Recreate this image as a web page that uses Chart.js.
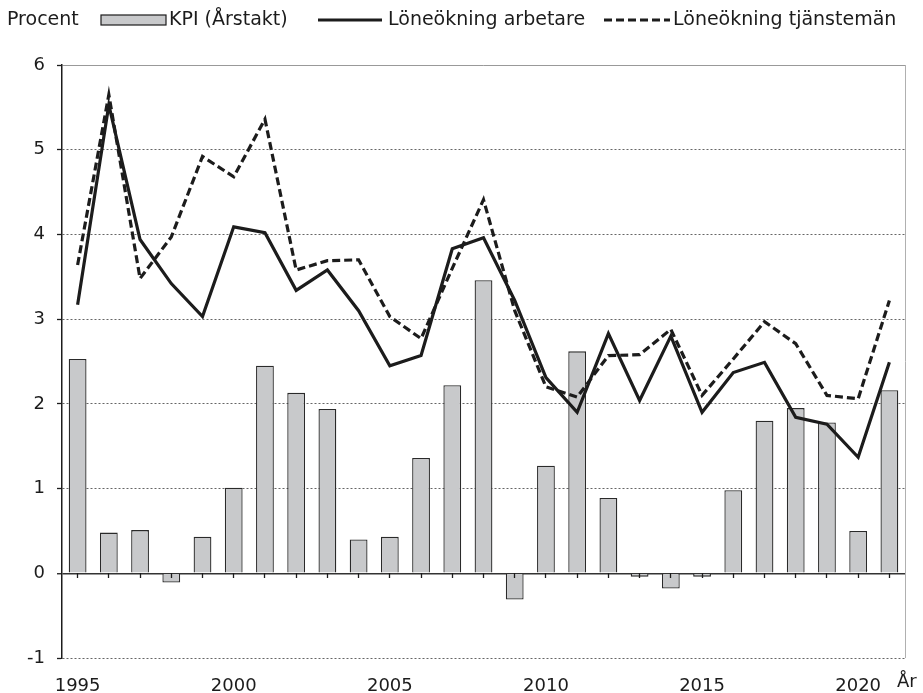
<!DOCTYPE html>
<html>
<head>
<meta charset="utf-8">
<script src="https://cdn.jsdelivr.net/npm/chart.js@4.4.0/dist/chart.umd.min.js"></script>
<style>
  html, body { margin: 0; padding: 0; background: #fff; }
  #wrap { width: 923px; height: 693px; }
</style>
</head>
<body>
<div id="wrap"><canvas id="myChart" width="923" height="693"></canvas></div>
<script>
// Data ==>
var years = ['1995', '1996', '1997', '1998', '1999', '2000', '2001', '2002', '2003', '2004',
    '2005', '2006', '2007', '2008', '2009', '2010', '2011', '2012', '2013', '2014',
    '2015', '2016', '2017', '2018', '2019', '2020', '2021']
var kpi = [2.53, 0.48, 0.51, -0.11, 0.43, 1.01, 2.45, 2.13, 1.94, 0.40,
    0.43, 1.36, 2.22, 3.46, -0.31, 1.27, 2.62, 0.89, -0.04, -0.18,
    -0.04, 0.98, 1.80, 1.95, 1.78, 0.50, 2.16]
var arbetare = [3.17, 5.53, 3.94, 3.42, 3.03, 4.09, 4.02, 3.34, 3.58, 3.10,
    2.45, 2.57, 3.83, 3.96, 3.22, 2.31, 1.90, 2.83, 2.04, 2.80,
    1.90, 2.37, 2.49, 1.84, 1.76, 1.37, 2.49]
var tjansteman = [3.64, 5.65, 3.48, 3.97, 4.92, 4.68, 5.36, 3.58, 3.69, 3.70,
    3.03, 2.77, 3.60, 4.41, 3.10, 2.20, 2.08, 2.57, 2.58, 2.88,
    2.10, 2.53, 2.97, 2.71, 2.10, 2.06, 3.22]
var shownYears = ['1995', '2000', '2005', '2010', '2015', '2020']
var seriesNames = ['KPI (Årstakt)', 'Löneökning arbetare', 'Löneökning tjänstemän']
var yUnit = 'Procent'
var xUnit = 'År'

var FONT = '"DejaVu Sans", sans-serif'
var INK = '#1c1c1c'

// Legend + unit texts ==>
var extraText = {
    id: 'extraText',
    afterDraw(chart) {
        var c = chart.ctx
        var area = chart.chartArea
        c.save()
        c.font = '19px ' + FONT
        c.fillStyle = INK
        c.textBaseline = 'middle'
        c.textAlign = 'left'
        var ly = 20
        c.fillText(yUnit, 7, ly)

        // bar key
        c.fillStyle = '#c8c9cb'
        c.fillRect(101, ly - 5, 65, 10)
        c.strokeStyle = INK
        c.lineWidth = 1.2
        c.strokeRect(101, ly - 5, 65, 10)
        c.fillStyle = INK
        c.fillText(seriesNames[0], 169, ly)

        // solid key
        c.lineWidth = 3
        c.beginPath()
        c.moveTo(318, ly)
        c.lineTo(382, ly)
        c.stroke()
        c.fillText(seriesNames[1], 388, ly)

        // dashed key
        c.setLineDash([8, 4])
        c.beginPath()
        c.moveTo(604, ly)
        c.lineTo(670, ly)
        c.stroke()
        c.setLineDash([])
        c.fillText(seriesNames[2], 673, ly)

        // År
        c.font = '18px ' + FONT
        c.fillText(xUnit, area.right - 8, 682)

        // right frame
        c.strokeStyle = '#b0b0b0'
        c.lineWidth = 1
        c.beginPath()
        c.moveTo(area.right + 0.5, area.top)
        c.lineTo(area.right + 0.5, area.bottom)
        c.stroke()
        c.restore()
    }
}

const ctx = document.getElementById('myChart')
Chart.defaults.font.family = FONT
Chart.defaults.font.size = 18
Chart.defaults.color = INK

new Chart(ctx, {
    type: 'bar',
    data: {
        labels: years,
        datasets: [{
            label: seriesNames[0],
            data: kpi,
            backgroundColor: '#c8c9cb',
            borderColor: '#2a2a2a',
            borderWidth: 1.3,
            barPercentage: 0.57,
            categoryPercentage: 1,
            order: 3
        }, {
            type: 'line',
            label: seriesNames[1],
            data: arbetare,
            borderColor: INK,
            borderWidth: 3.2,
            pointRadius: 0,
            tension: 0,
            fill: false,
            borderJoinStyle: 'miter',
            order: 2
        }, {
            type: 'line',
            label: seriesNames[2],
            data: tjansteman,
            borderColor: INK,
            borderWidth: 3.2,
            borderDash: [8, 4],
            pointRadius: 0,
            tension: 0,
            fill: false,
            borderJoinStyle: 'miter',
            order: 1
        }]
    },
    options: {
        responsive: false,
        animation: false,
        devicePixelRatio: 1,
        layout: { padding: { top: 65, right: 18, left: 0, bottom: 0 } },
        plugins: {
            legend: { display: false },
            tooltip: { enabled: false }
        },
        scales: {
            x: {
                type: 'category',
                offset: true,
                grid: { display: false, offset: false },
                border: { display: false },
                ticks: {
                    autoSkip: false,
                    maxRotation: 0,
                    padding: 10,
                    callback: function(val, i) {
                        var lab = this.getLabelForValue(val)
                        return shownYears.indexOf(lab) >= 0 ? lab : ''
                    }
                },
                afterFit: function(scale) { scale.height = 35 }
            },
            x0: {
                type: 'category',
                position: { y: 0 },
                offset: true,
                grid: {
                    offset: false,
                    drawOnChartArea: false,
                    drawTicks: true,
                    tickLength: 5,
                    tickColor: INK,
                    tickWidth: 1.3,
                    z: 1
                },
                border: { display: false },
                ticks: { display: false }
            },
            y: {
                min: -1,
                max: 6,
                ticks: { stepSize: 1, padding: 12, color: INK },
                grid: {
                    color: function(c) {
                        if (!c.tick) return '#777'
                        if (c.tick.value === 0) return '#333'
                        if (c.tick.value === 6) return '#999'
                        return '#666'
                    },
                    lineWidth: function(c) {
                        if (c.tick && c.tick.value === 0) return 1.5
                        return 1
                    },
                    tickLength: 5,
                    tickColor: INK,
                    tickWidth: 1.3
                },
                border: {
                    color: INK,
                    width: 1.5,
                    dash: function(c) {
                        if (!c.tick) return []
                        if (c.tick.value === 0 || c.tick.value === 6) return []
                        return [2, 2]
                    }
                },
                afterFit: function(scale) { scale.width = 62 }
            }
        }
    },
    plugins: [extraText]
});
</script>
</body>
</html>
